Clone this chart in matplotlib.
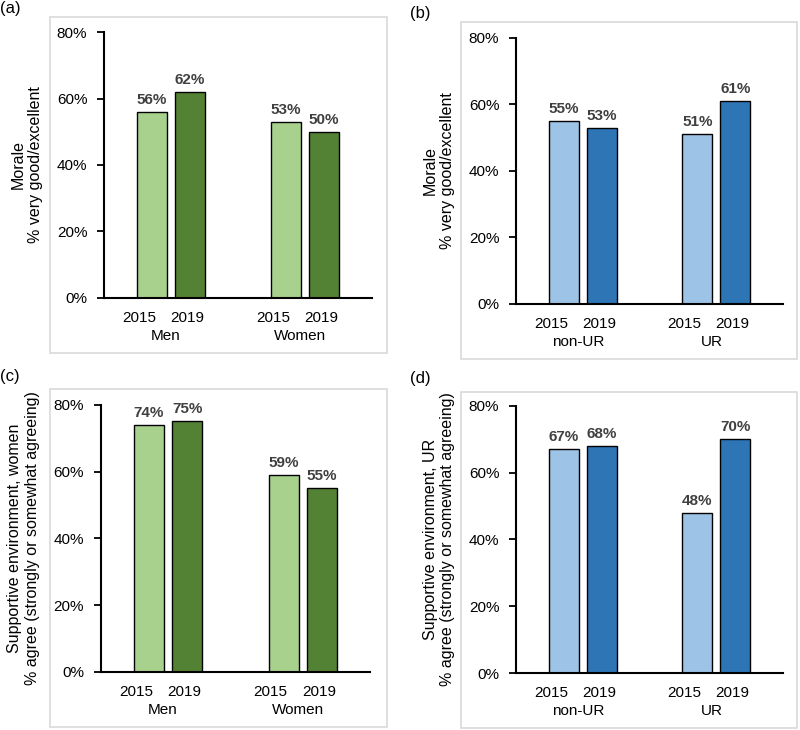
"""
Morale and supportive environment survey results, 2015 vs 2019.
"""

import matplotlib

matplotlib.use("Agg")

import matplotlib.pyplot as plt
import matplotlib.transforms as mtransforms
from matplotlib.patches import Rectangle
import numpy as np


plt.rcParams["font.family"] = ["Liberation Sans", "DejaVu Sans"]

YEARS = ["2015", "2019"]

GENDER_GROUPS = ["Men", "Women"]
UR_GROUPS = ["non-UR", "UR"]

# values in percent, rows = groups, columns = years
MORALE_GENDER = [[56, 62], [53, 50]]
MORALE_UR = [[55, 53], [51, 61]]
SUPPORT_GENDER = [[74, 75], [59, 55]]
SUPPORT_UR = [[67, 68], [48, 70]]

GREENS = ["#a9d18e", "#548235"]
BLUES = ["#9dc3e6", "#2e75b6"]

MORALE_LABEL = "Morale\n% very good/excellent"
SUPPORT_GENDER_LABEL = (
    "Supportive environment, women\n% agree (strongly or somewhat agreeing)"
)
SUPPORT_UR_LABEL = (
    "Supportive environment, UR\n% agree (strongly or somewhat agreeing)"
)

BAR_WIDTH = 0.224
OFFSET = 0.142
TEXT_COLOR = "#404040"

# horizontal nudge (pixels) of the year labels relative to their bar
YEAR_SHIFT = [-13, -3]


def draw_panel(fig, rect, frame, tag, tag_pos, groups, values, colors, ylabel):
    """
    Draw one framed bar panel.
    """

    fig.patches.append(
        Rectangle(
            (frame[0], frame[1]),
            frame[2],
            frame[3],
            transform=fig.transFigure,
            facecolor="none",
            edgecolor="#d9d9d9",
            linewidth=1.2,
            zorder=-1,
        )
    )

    fig.text(
        tag_pos[0],
        tag_pos[1],
        tag,
        fontsize=12,
        ha="left",
        va="top",
    )

    ax = fig.add_axes(rect)
    ax.set_facecolor("none")
    ax.set_zorder(2)

    centers = np.arange(len(groups))
    values = np.array(values)

    trans = mtransforms.blended_transform_factory(ax.transData, ax.transAxes)

    for j, year in enumerate(YEARS):
        x = centers + (j - 0.5) * 2 * OFFSET
        bars = ax.bar(
            x,
            values[:, j],
            width=BAR_WIDTH,
            color=colors[j],
            edgecolor="black",
            linewidth=1.0,
            zorder=2,
        )
        for bar, v in zip(bars, values[:, j]):
            ax.text(
                bar.get_x() + bar.get_width() / 2,
                v + 1.5,
                f"{v}%",
                ha="center",
                va="bottom",
                fontsize=11,
                fontweight="bold",
                color=TEXT_COLOR,
            )

        year_trans = mtransforms.offset_copy(
            trans, fig=fig, x=YEAR_SHIFT[j], y=-20, units="dots"
        )
        for xpos in x:
            ax.text(
                xpos,
                0,
                year,
                transform=year_trans,
                ha="center",
                va="center",
                fontsize=11,
            )

    group_trans = mtransforms.offset_copy(
        trans, fig=fig, x=-5, y=-38, units="dots"
    )
    for c, name in zip(centers, groups):
        ax.text(
            c,
            0,
            name,
            transform=group_trans,
            ha="center",
            va="center",
            fontsize=11,
        )

    ax.set_xlim(-0.5, 1.5)
    ax.set_ylim(0, 80)
    ax.set_yticks([0, 20, 40, 60, 80])
    ax.set_yticklabels([f"{t}%" for t in [0, 20, 40, 60, 80]], fontsize=11)

    ax.set_xticks([])
    ax.tick_params(axis="y", length=5, width=1.3, direction="out", pad=7)

    ax.set_ylabel(ylabel, fontsize=11.5, linespacing=1.2, labelpad=10)

    for side in ["top", "right"]:
        ax.spines[side].set_visible(False)
    for side in ["left", "bottom"]:
        ax.spines[side].set_linewidth(1.5)

    return ax


def main():
    fig = plt.figure(figsize=(8, 7.3), dpi=100)

    draw_panel(
        fig,
        [0.130, 0.592, 0.335, 0.364],
        [0.0625, 0.5164, 0.421, 0.460],
        "(a)",
        (0.0, 0.999),
        GENDER_GROUPS,
        MORALE_GENDER,
        GREENS,
        MORALE_LABEL,
    )

    draw_panel(
        fig,
        [0.645, 0.584, 0.334, 0.364],
        [0.576, 0.508, 0.420, 0.4616],
        "(b)",
        (0.513, 0.992),
        UR_GROUPS,
        MORALE_UR,
        BLUES,
        MORALE_LABEL,
    )

    draw_panel(
        fig,
        [0.126, 0.0795, 0.3365, 0.366],
        [0.0625, 0.0041, 0.421, 0.463],
        "(c)",
        (0.0, 0.494),
        GENDER_GROUPS,
        SUPPORT_GENDER,
        GREENS,
        SUPPORT_GENDER_LABEL,
    )

    draw_panel(
        fig,
        [0.645, 0.078, 0.334, 0.366],
        [0.576, 0.0027, 0.420, 0.460],
        "(d)",
        (0.513, 0.492),
        UR_GROUPS,
        SUPPORT_UR,
        BLUES,
        SUPPORT_UR_LABEL,
    )

    fig.savefig("out.png", dpi=100)
    plt.close(fig)


if __name__ == "__main__":
    main()
